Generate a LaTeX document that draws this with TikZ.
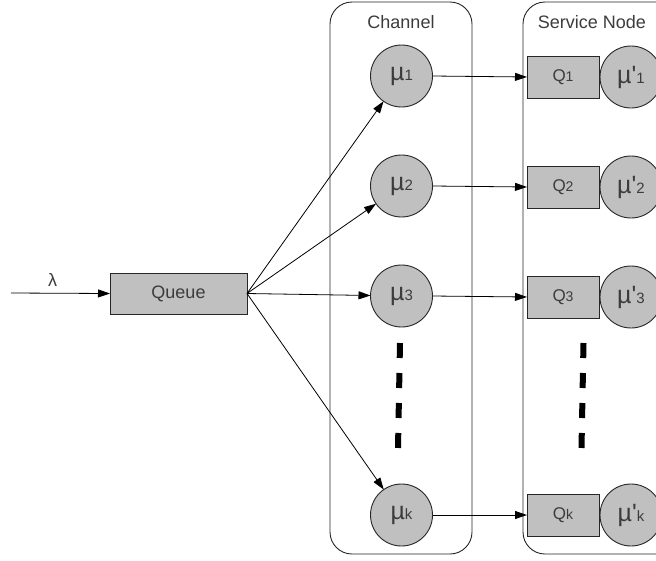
\documentclass[tikz,border=0pt]{standalone}
\usepackage{fontspec}
\setmainfont{Liberation Sans}
\usetikzlibrary{arrows.meta}
\definecolor{boxgray}{RGB}{192,192,192}
\definecolor{txt}{RGB}{60,60,60}
\begin{document}
\begin{tikzpicture}[x=1pt,y=-1pt,
  every node/.style={inner sep=0pt,outer sep=0pt,text=txt},
  server/.style={circle,draw=black!85,fill=boxgray,line width=0.9pt,minimum size=62pt},
  qbox/.style={rectangle,draw=black!85,fill=boxgray,line width=0.9pt,minimum width=72pt,minimum height=42pt},
  group/.style={draw=black!85,line width=0.9pt,rounded corners=22pt},
  flow/.style={-{Triangle[length=12pt,width=8pt]},line width=0.8pt},
  dots/.style={line width=6pt,dash pattern=on 15pt off 15pt},
  title/.style={font=\fontsize{18}{20}\selectfont},
]
\newcommand{\mulab}[1]{{\fontsize{25}{26}\selectfont\textmu}{\fontsize{15}{16}\selectfont #1}}
\newcommand{\mupl}[1]{{\fontsize{25}{26}\selectfont\textmu\textquotesingle}{\fontsize{15}{16}\selectfont #1}}
\newcommand{\qlab}[1]{{\fontsize{17}{18}\selectfont Q}{\fontsize{14}{15}\selectfont #1}}
\clip (0,0) rectangle (656,560);

% containers
\draw[group] (330,2) rectangle (472,554);
\draw[group] (523,2) rectangle (700,554);
\node[title] (chtitle) at (401,22) {Channel};
\node[title] (sntitle) at (592,22) {Service Node};

% arrival and queue
\coordinate (src) at (11,293);
\node[qbox,minimum width=137pt,minimum height=41pt,font=\fontsize{18}{20}\selectfont] (queue) at (178.5,293.5) {Queue};
\draw[flow] (src) -- node[pos=0.42,above=7pt,font=\fontsize{18}{20}\selectfont] (lam) {λ} (queue.west);

% channels
\node[server] (mu1) at (401.5,76) {\mulab{1}};
\node[server] (mu2) at (401.5,186) {\mulab{2}};
\node[server] (mu3) at (401.5,296) {\mulab{3}};
\node[server] (muk) at (401.5,515) {\mulab{k}};

% service nodes
\node[qbox] (q1) at (563,77) {\qlab{1}};
\node[qbox] (q2) at (563,187) {\qlab{2}};
\node[qbox] (q3) at (563,297) {\qlab{3}};
\node[qbox] (qk) at (563,515) {\qlab{k}};
\node[server] (s1) at (631,77) {\mupl{1}};
\node[server] (s2) at (631,187) {\mupl{2}};
\node[server] (s3) at (631,297) {\mupl{3}};
\node[server] (sk) at (631,515) {\mupl{k}};

% dispatch from the queue
\foreach \m in {mu1,mu2,mu3,muk}
  \draw[flow] (queue.east) -- (\m);

% channel to service node
\draw[flow] (mu1.east) -- (q1.west);
\draw[flow] (mu2.east) -- (q2.west);
\draw[flow] (mu3.east) -- (q3.west);
\draw[flow] (muk.east) -- (qk.west);

% ellipsis between rows
\coordinate (dA1) at (400,343); \coordinate (dA2) at (398,448);
\coordinate (dB1) at (583.5,343); \coordinate (dB2) at (581.5,448);
\draw[dots] (dA1) -- (dA2);
\draw[dots] (dB1) -- (dB2);
\end{tikzpicture}
\end{document}
